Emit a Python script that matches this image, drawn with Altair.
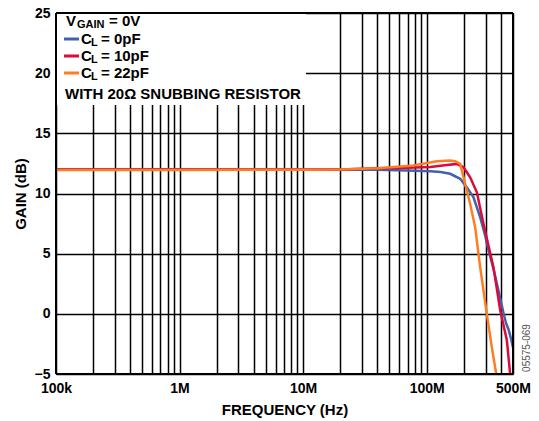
import altair as alt
import pandas as pd

FONT = "Liberation Sans"

# ---- data ----
freq_0pF = [1e5, 1e6, 1e7, 2e7, 4e7, 7e7, 1.07e8, 1.3e8, 1.55e8, 1.87e8, 2.11e8, 2.39e8,
            2.71e8, 2.98e8, 3.07e8, 3.5e8, 3.94e8, 4.2e8, 4.4e8, 4.6e8, 4.8e8, 5e8]
gain_0pF = [12.0, 12.0, 11.98, 11.98, 11.97, 11.92, 11.85, 11.78, 11.64, 11.22, 10.53, 9.7,
            8.04, 6.5, 5.84, 3.6, 1.3, 0.0, -0.8, -1.3, -2.0, -2.8]

freq_10pF = [1e5, 1e6, 1e7, 2e7, 4e7, 7e7, 1.07e8, 1.4e8, 1.76e8, 1.99e8, 2.25e8, 2.55e8,
             2.88e8, 3.47e8, 3.94e8, 4.46e8, 4.74e8]
gain_10pF = [12.0, 12.0, 12.0, 12.0, 12.1, 12.15, 12.2, 12.35, 12.46, 12.18, 11.35, 10.1,
             7.5, 3.9, 0.3, -2.2, -5.0]

freq_22pF = [1e5, 1e6, 1e7, 2e7, 4e7, 7.8e7, 1.21e8, 1.55e8, 1.7e8, 1.87e8, 2.05e8, 2.25e8,
             2.47e8, 2.71e8, 3.07e8, 3.36e8, 3.66e8]
gain_22pF = [11.95, 11.95, 11.98, 12.0, 12.1, 12.33, 12.68, 12.74, 12.68, 12.46, 10.8, 9.15,
             7.2, 3.9, 0.0, -2.7, -5.0]

series_names = ["0pF", "10pF", "22pF"]
series_colors = ["#4062A6", "#DA0A3A", "#FF7D22"]

x_grid_values = [k * 10 ** e for e in range(5, 9) for k in range(1, 10)]
x_grid_values = [v for v in x_grid_values if v <= 500000000]
x_label_values = [100000, 1000000, 10000000, 100000000, 500000000]
x_label_texts = ["100k", "1M", "10M", "100M", "500M"]
y_values = [-5, 0, 5, 10, 15, 20, 25]

legend_rows = ["C", "C", "C"]
legend_values = ["= 0pF", "= 10pF", "= 22pF"]

W, H = 457, 361

rows = []
for name, fs, gs in zip(series_names, [freq_0pF, freq_10pF, freq_22pF],
                        [gain_0pF, gain_10pF, gain_22pF]):
    for f, g in zip(fs, gs):
        rows.append({"series": name, "freq": f, "gain": g})
df = pd.DataFrame(rows)

label_expr = " : ".join(
    f"datum.value == {v} ? '{t}'" for v, t in zip(x_label_values, x_label_texts)
) + " : ''"

x_enc = alt.X(
    "freq:Q",
    scale=alt.Scale(type="log", domain=[1e5, 5e8], nice=False),
    axis=alt.Axis(
        values=x_grid_values, labelExpr=label_expr, grid=True, gridColor="black",
        gridWidth=1.5, gridOpacity=1, ticks=False, domain=False,
        labelFont=FONT, labelFontSize=14, labelFontWeight="bold", labelColor="black",
        labelPadding=7, labelFlush=False, labelOverlap=False,
        title="FREQUENCY (Hz)", titleFont=FONT, titleFontSize=15, titleFontWeight="bold",
        titleColor="black", titleX=W / 2, titleY=35, titleBaseline="middle",
        titleAnchor="middle",
    ),
)
y_enc = alt.Y(
    "gain:Q",
    scale=alt.Scale(domain=[-5, 25], nice=False, zero=False),
    axis=alt.Axis(
        values=y_values, format="d", grid=True, gridColor="black", gridWidth=1.5,
        gridOpacity=1, ticks=False, domain=False,
        labelFont=FONT, labelFontSize=14, labelFontWeight="bold", labelColor="black",
        labelPadding=6,
        title="GAIN (dB)", titleFont=FONT, titleFontSize=15, titleFontWeight="bold",
        titleColor="black", titleX=-36, titleY=H / 2, titleAngle=270,
        titleBaseline="middle", titleAlign="center",
    ),
)

base = alt.Chart(df)

# invisible layer carrying axes
axes_layer = base.mark_point(opacity=0).encode(x=x_enc, y=y_enc)

one = pd.DataFrame({"a": [0]})

legend_bg = alt.Chart(one).mark_rect(color="white").encode(
    x=alt.value(0), x2=alt.value(250), y=alt.value(0), y2=alt.value(92)
)

line_layers = []
for name, col in zip(series_names, series_colors):
    line_layers.append(
        base.transform_filter(alt.datum.series == name)
        .mark_line(color=col, strokeWidth=2.5, clip=True)
        .encode(x="freq:Q", y="gain:Q")
    )

def rule(x, x2, y, y2, color="black", width=2):
    return alt.Chart(one).mark_rule(color=color, strokeWidth=width).encode(
        x=alt.value(x), x2=alt.value(x2), y=alt.value(y), y2=alt.value(y2)
    )

frame = [
    rule(0, W, 0, 0), rule(0, W, H, H), rule(0, 0, 0, H), rule(W, W, 0, H)
]

def txt(s, x, y, size, dy=0, bold=True, color="black"):
    return alt.Chart(one).mark_text(
        text=s, align="left", baseline="middle", font=FONT, fontSize=size,
        fontWeight="bold" if bold else "normal", dy=dy, color=color
    ).encode(x=alt.value(x), y=alt.value(y))

legend = [
    txt("V", 10, 8, 15),
    txt("GAIN", 21, 8, 11, dy=4),
    txt("= 0V", 53, 8, 15),
]
row_y = [26, 43, 60]
for yy, col, c, val in zip(row_y, series_colors, legend_rows, legend_values):
    legend.append(rule(8, 23, yy, yy, color=col, width=3))
    legend.append(txt(c, 25, yy, 15))
    legend.append(txt("L", 35, yy, 11, dy=4))
    legend.append(txt(val, 45, yy, 15))
legend.append(txt("WITH 20Ω SNUBBING RESISTOR", 9, 81, 15))

watermark = alt.Chart(one).mark_text(
    text="05575-069", angle=270, align="center", baseline="middle",
    font=FONT, fontSize=10, color="#555555"
).encode(x=alt.value(471), y=alt.value(335))

chart = alt.layer(
    axes_layer, legend_bg, *line_layers, *frame, *legend, watermark
).properties(
    width=W, height=H,
    autosize=alt.AutoSizeParams(type="none"),
    padding={"left": 48, "top": 5, "right": 18, "bottom": 47},
).configure_view(stroke=None)

chart.save("out.html", embed_options={"renderer": "svg", "actions": False})
